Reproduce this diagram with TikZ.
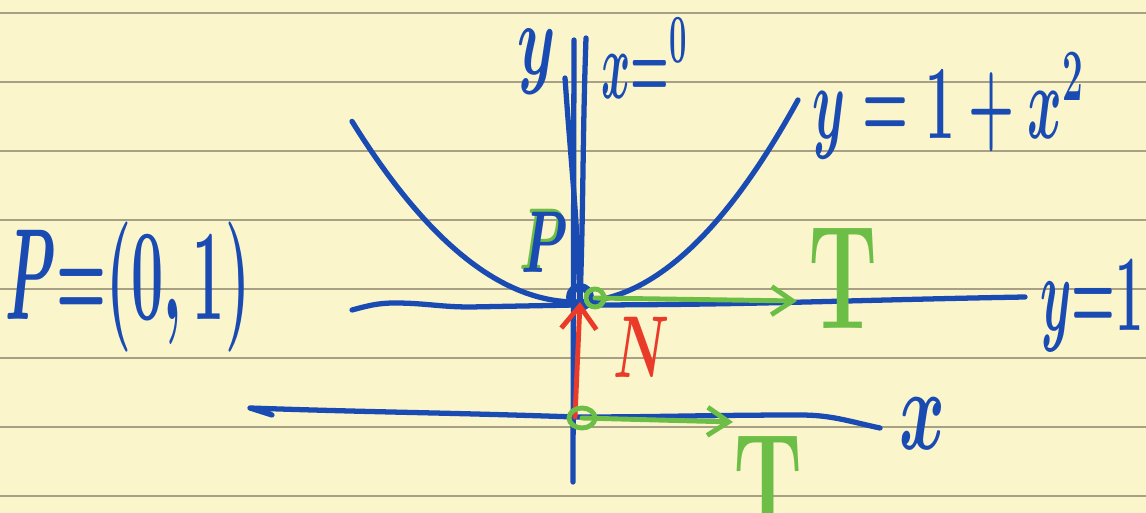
\RequirePackage{fix-cm}
\documentclass[tikz,border=0pt]{standalone}
\usetikzlibrary{arrows.meta}

\definecolor{paper}{HTML}{FBF5CC}
\definecolor{ruling}{HTML}{A8A084}
\definecolor{ink}{HTML}{1A4BB3}
\definecolor{greenpen}{HTML}{6DBE47}
\definecolor{redpen}{HTML}{EA3B2A}

\tikzset{
    blueink/.style={draw=ink, line width=3pt, line cap=round, line join=round},
    greenink/.style={draw=greenpen, line width=2.8pt, line cap=round, line join=round},
    redink/.style={draw=redpen, line width=2.8pt, line cap=round, line join=round},
    hand/.style={inner sep=0pt, transform shape, font=\fontsize{#1}{#1}\selectfont\boldmath},
    hand/.default=60
}

\begin{document}
\begin{tikzpicture}[x=0.02cm, y=-0.02cm]

% ===== Paper and ruling =====
\fill[paper] (0,0) rectangle (1146,513);
\useasboundingbox (0,0) rectangle (1146,513);
\clip (0,0) rectangle (1146,513);
\foreach \r in {13,82,...,496}
    \draw[ruling, line width=0.9pt] (0,\r) -- (1146,\r);

% ===== Points =====
\coordinate (O)    at (575,417);
\coordinate (P)    at (580,302);
\coordinate (ytop) at (574,40);
\coordinate (ybot) at (573,482);
\coordinate (xl)   at (250,408);
\coordinate (xr)   at (880,428);
\coordinate (ll)   at (352,310);
\coordinate (lr)   at (1025,297);
\coordinate (Pg)   at (595,298);
\coordinate (Og)   at (582,418);
\coordinate (Ptip) at (797,301);
\coordinate (Otip) at (733,422);

% ===== Axes =====
\draw[blueink] (ytop) -- (ybot);
\draw[blueink] (565,78) to[out=-86,in=92] (P);
\draw[blueink] (586,38) to[out=-92,in=88] (P);
\draw[blueink] (272,415) -- (xl) to[out=-2,in=178] (O)
    to[out=0,in=180] (800,415) to[out=0,in=168] (xr);

% ===== Line y=1 and the parabola =====
\draw[blueink] (ll) to[out=15,in=180] (395,303) to[out=0,in=180] (470,307)
    -- (575,305) to[out=0,in=181] (lr);
\draw[blueink] plot[domain=-2.24:0, samples=50] ({576+100*\x},{302-36*\x*\x});
\draw[blueink] plot[domain=0:2.22, samples=50] ({576+100*\x},{302-41*\x*\x});
\draw[blueink, line width=4.5pt] (P) ++(0,-5) circle[radius=10];

% ===== Normal =====
\draw[redink, -{Straight Barb[length=13pt, width=20pt]}] (O) -- (P);

% ===== Tangents =====
\draw[greenink] (Pg) circle[radius=9];
\draw[greenink] (Og) ellipse[x radius=13, y radius=10];
\draw[greenink, -{Straight Barb[length=12pt, width=16pt]}] (Pg) -- (Ptip);
\draw[greenink, -{Straight Barb[length=12pt, width=16pt]}] (Og) -- (Otip);

% ===== Labels =====
\node[hand=74, xscale=0.44, text=ink] (Pdef)  at (128,287) {$P{=}(0,1)$};
\node[hand=58, xscale=0.6, text=ink]  (ylab)  at (537,62)  {$y$};
\node[hand=56, xscale=0.45, text=ink] (x0lab) at (644,58)  {$x{=}{}^{0}$};
\node[hand=60, xscale=0.5, text=ink]  (parab) at (948,106) {$y=1+x^2$};
\node[hand=50, xscale=0.6, text=greenpen] at (543,239) {$P$};
\node[hand=50, xscale=0.6, text=ink]  (Plab)  at (545,242) {$P$};
\node[hand=84, xscale=0.6, text=greenpen] (Tup) at (843,278) {$\mathrm{T}$};
\node[hand=62, xscale=0.46, text=ink] (y1lab) at (1092,306) {$y{=}1$};
\node[hand=50, xscale=0.6, text=redpen] (Nlab) at (642,347) {$N$};
\node[hand=66, xscale=0.6, text=ink]  (xlab)  at (922,424) {$x$};
\node[hand=84, xscale=0.6, text=greenpen] (Tlow) at (768,486) {$\mathrm{T}$};

\end{tikzpicture}
\end{document}
